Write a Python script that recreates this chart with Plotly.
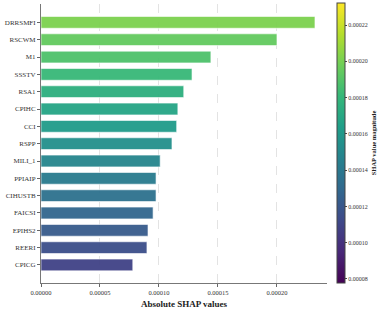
import plotly.graph_objects as go
from plotly.colors import sample_colorscale

features = ["DRRSMFI", "RSCWM", "M1", "SSSTV", "RSA1", "CPIHC", "CCI", "RSPP",
            "MILI_1", "PPIAIP", "CIHUSTB", "FAICSI", "EPIHS2", "REERI", "CPICG"]
shap_values = [0.0002322, 0.0002000, 0.0001440, 0.0001280, 0.0001210, 0.0001160,
               0.0001150, 0.0001110, 0.0001010, 0.0000975, 0.0000975, 0.0000950,
               0.0000907, 0.0000898, 0.0000778]
x_tick_vals = [0.0, 0.00005, 0.00010, 0.00015, 0.00020]
cbar_tick_vals = [0.00008, 0.00010, 0.00012, 0.00014, 0.00016, 0.00018, 0.00020, 0.00022]

n = len(features)
positions = list(range(n))
bar_colors = sample_colorscale("Viridis", [0.8 - 0.6 * i / (n - 1) for i in range(n)])

font_family = "Liberation Serif, Times New Roman, serif"

fig = go.Figure()
fig.add_trace(go.Bar(
    x=shap_values, y=positions, orientation="h",
    width=0.68,
    marker=dict(color=bar_colors, line=dict(color="rgba(255,255,255,0.6)", width=1)),
    opacity=0.95,
    showlegend=False,
))
fig.add_trace(go.Scatter(
    x=[shap_values[0], shap_values[-1]], y=[positions[0], positions[-1]],
    mode="markers",
    marker=dict(
        color=[max(shap_values), min(shap_values)],
        colorscale="Viridis",
        cmin=min(shap_values), cmax=max(shap_values),
        size=0.1, opacity=0,
        showscale=True,
        colorbar=dict(
            x=1.035, xanchor="left", xref="paper", xpad=0, ypad=0,
            y=0.502, yanchor="middle",
            len=280, lenmode="pixels",
            thickness=8,
            outlinecolor="#444", outlinewidth=1,
            tickvals=cbar_tick_vals,
            tickformat=".5f",
            ticks="outside", ticklen=2, tickcolor="#444",
            tickfont=dict(family=font_family, size=6, color="#333"),
            title=dict(text="<b>SHAP value magnitude</b>", side="right",
                       font=dict(family=font_family, size=6.5, color="#222")),
        ),
    ),
    hoverinfo="skip", showlegend=False,
))

fig.update_layout(
    width=381, height=312,
    margin=dict(l=41, r=54, t=4, b=29, autoexpand=False),
    plot_bgcolor="white", paper_bgcolor="white",
    font=dict(family=font_family, size=6, color="#333"),
    bargap=0.3,
    hovermode=False,
)
fig.update_xaxes(
    range=[0, 0.0002424],
    tickvals=x_tick_vals, tickformat=".5f",
    ticks="outside", ticklen=3, tickcolor="#666",
    tickfont=dict(family=font_family, size=6.5, color="#333"),
    showline=True, linecolor="#777", linewidth=1,
    showgrid=True, gridcolor="rgba(200,200,200,0.5)", griddash="dash", gridwidth=1,
    zeroline=False,
    title=dict(text="<b>Absolute SHAP values</b>", font=dict(family=font_family, size=9, color="#222"),
               standoff=5),
)
fig.update_yaxes(
    range=[n - 1 + 1.04, -1.06],
    tickvals=positions, ticktext=features,
    ticks="outside", ticklen=3, tickcolor="#666",
    tickfont=dict(family=font_family, size=7, color="#333"),
    showline=True, linecolor="#777", linewidth=1,
    showgrid=False, zeroline=False,
)

fig.write_html("out.html", config={"displayModeBar": False, "staticPlot": True},
               post_script="document.body.style.margin='0';")
